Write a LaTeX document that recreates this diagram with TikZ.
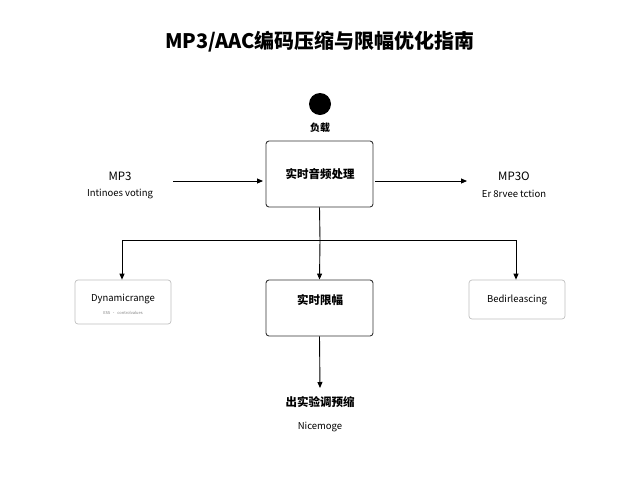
\documentclass[tikz,border=0pt]{standalone}
\usepackage{fontspec}
\setmainfont{Noto Sans CJK SC}
\usetikzlibrary{arrows.meta}
\begin{document}
\begin{tikzpicture}[x=1pt,y=-1pt,
  box/.style={draw=black!80,rounded corners=3pt,line width=0.9pt,inner sep=0},
  lbox/.style={draw=black!25,rounded corners=3pt,line width=0.7pt,inner sep=0},
  arr/.style={-{Triangle[length=6pt,width=5pt]},line width=0.9pt},
  lab/.style={font=\fontsize{11.5}{13}\selectfont},
  sub/.style={font=\fontsize{9.5}{11}\selectfont}]
\useasboundingbox (0,0) rectangle (640,480);
\node[font=\fontsize{20}{24}\selectfont\bfseries] (title) at (320,42) {MP3/AAC编码压缩与限幅优化指南};
\node[circle,fill=black,minimum size=22pt,inner sep=0] (start) at (320,104) {};
\node[sub,font=\bfseries] (startl) at (320,128) {负载};
\node[box,minimum width=107pt,minimum height=66pt] (main) at (319.5,174) {};
\node[lab] (mainl) at (320,174) {\bfseries 实时音频处理};
\node[lab] (in) at (120,176) {MP3};
\node[sub] (insub) at (120,194) {Intinoes voting};
\node[lab] (out) at (514,176) {MP3O};
\node[sub] (outsub) at (514,194) {Er 8rvee tction};
\coordinate (ina) at (173,181);
\coordinate (outa) at (467,181);
\draw[arr] (ina) -- (263,181);
\draw[arr] (375,181) -- (outa);
\node[lbox,minimum width=96pt,minimum height=44pt] (lb) at (123,302) {};
\node[sub] (lbl) at (123,299) {Dynamicrange};
\node[font=\fontsize{4}{5}\selectfont,text=black!50] (lbs) at (123,313) {ESS \,•\,  controlvalues};
\node[box,minimum width=107pt,minimum height=56pt] (mb) at (319.5,308) {};
\node[lab] (mbl) at (320,300) {\bfseries 实时限幅};
\node[lbox,minimum width=96pt,minimum height=39pt] (rb) at (517,299.5) {};
\node[sub] (rbl) at (517,300) {Bedirleascing};
\coordinate (j) at (320,240);
\draw[line width=0.9pt] (main.south) -- (j);
\draw[line width=0.9pt] (122,240) -- (516,240);
\draw[arr] (122,240) -- (lb.north -| 122,0);
\draw[arr] (j) -- (mb.north);
\draw[arr] (516,240) -- (rb.north -| 516,0);
\coordinate (e) at (320,388);
\draw[arr] (mb.south) -- (e);
\node[lab] (el) at (320,402) {\bfseries 出实验调预缩};
\node[sub] (es) at (320,427) {Nicemoge};
\end{tikzpicture}
\end{document}
